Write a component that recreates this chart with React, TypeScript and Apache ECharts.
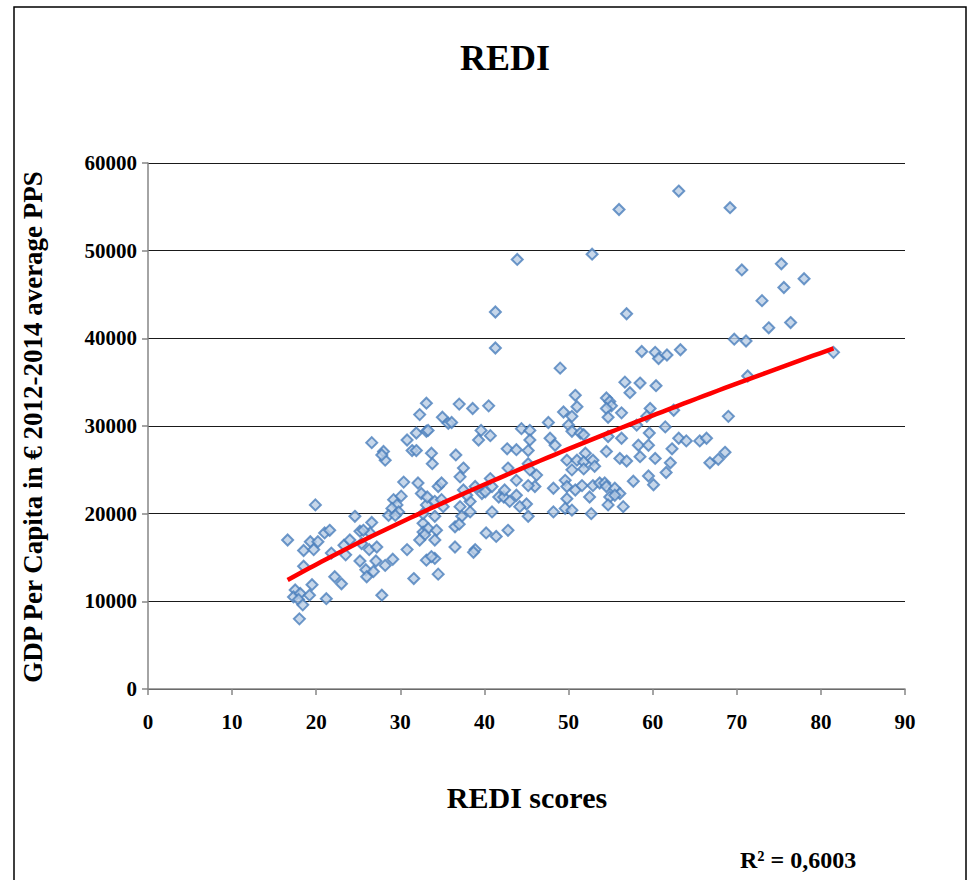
import React, { useEffect, useRef } from "react";
import * as echarts from "echarts";

const chartTitle = "REDI";
const xAxisTitle = "REDI scores";
const yAxisTitle = "GDP Per Capita in € 2012-2014 average PPS";
const r2Label = "R² = 0,6003";

const xTicks = [0, 10, 20, 30, 40, 50, 60, 70, 80, 90];
const yTicks = [0, 10000, 20000, 30000, 40000, 50000, 60000];

// REDI score (x) and GDP per capita (y) for each region
const lowRegions: number[][] = [
  [19.9, 21000], [16.6, 17000], [18.5, 15800], [19.3, 16800], [20.2, 16800], [19.7, 15900],
  [21.0, 17800], [21.6, 18100], [18.5, 14000], [21.8, 15500], [23.3, 16400], [24.0, 17000],
  [24.6, 19700], [23.5, 15300], [25.2, 18000], [25.4, 16600], [26.6, 19000], [26.4, 17800],
  [26.3, 15900], [27.2, 16200], [25.2, 14600], [25.9, 13600], [26.0, 12800], [26.8, 13400],
  [27.1, 14600], [28.2, 14100], [29.1, 14800], [27.8, 10700], [22.2, 12800], [23.0, 12000],
  [21.2, 10300], [19.5, 11900], [17.5, 11300], [17.3, 10500], [18.1, 10900], [17.9, 10200],
  [18.4, 9600], [19.2, 10700], [18.0, 8000], [30.8, 15900], [31.6, 12600], [25.6, 18100],
  [29.2, 21600], [29.6, 21000], [29.0, 20600], [29.8, 20200], [28.6, 19800], [29.4, 19800],
  [30.1, 22000], [30.4, 23600], [32.1, 23500], [32.5, 22300], [33.1, 21000], [33.2, 21900],
  [32.7, 18900], [32.7, 17900], [33.1, 14700], [32.7, 20000], [33.3, 18300], [34.1, 19700],
  [34.3, 18100], [32.9, 17600], [32.3, 17000], [34.1, 17000], [36.5, 16200], [38.9, 15900],
  [38.7, 15600], [34.1, 14900], [33.7, 15100], [34.5, 13100],
];

const upperLeftRegions: number[][] = [
  [26.6, 28100], [28.0, 27100], [28.2, 26100], [27.8, 26700], [30.8, 28400], [31.4, 27200],
  [31.9, 27200], [31.9, 29200], [32.3, 31300], [33.1, 32600], [33.1, 29400], [33.3, 29500],
  [33.7, 26900], [33.8, 25700],
];

const middleRegions: number[][] = [
  [37.0, 32500], [38.6, 32000], [40.5, 32300], [35.0, 31000], [35.7, 30300], [36.1, 30400],
  [39.6, 29500], [39.3, 28400], [40.7, 28900], [44.4, 29700], [45.4, 29500], [45.4, 28400],
  [47.6, 30400], [49.4, 31600], [50.4, 31100], [50.8, 33500], [51.0, 32200], [50.0, 30100],
  [50.4, 29400], [47.8, 28600], [48.4, 27800], [36.6, 26700], [37.5, 25200], [37.1, 24200],
  [42.7, 27400], [43.8, 27300], [45.2, 27200], [45.2, 25700], [42.8, 25200], [43.8, 23800],
  [45.4, 25000], [46.2, 24400], [46.0, 23100], [45.2, 23200], [49.8, 26100], [50.4, 25000],
  [49.6, 23800], [49.8, 23100], [50.8, 22700], [48.2, 22900], [49.8, 21700], [49.6, 20600],
  [50.4, 20400], [48.2, 20200], [34.5, 23100], [34.9, 23500], [34.1, 21400], [34.9, 21600],
  [35.1, 20800], [37.1, 20800], [38.3, 21400], [37.9, 22100], [37.5, 22700], [38.9, 23100],
  [39.7, 22300], [40.1, 22500], [40.9, 23100], [40.7, 24000], [41.7, 21900], [42.3, 21900],
  [42.4, 22700], [43.0, 21400], [43.8, 22100], [45.0, 21100], [44.2, 20800], [40.9, 20200],
  [38.3, 20200], [37.3, 19700], [36.5, 18500], [37.0, 18800], [40.2, 17800], [42.8, 18100],
  [45.2, 19700], [41.4, 17400],
];

const upperRightRegions: number[][] = [
  [56.7, 35000], [58.5, 34900], [60.4, 34600], [57.3, 33800], [54.5, 33200], [54.9, 32800],
  [55.1, 32300], [54.5, 32000], [56.3, 31500], [54.7, 31000], [59.7, 32000], [59.3, 31100],
  [62.5, 31800], [58.1, 30100], [61.5, 29900], [51.4, 29200], [51.8, 29000], [54.7, 28800],
  [56.3, 28600], [59.6, 29200], [63.1, 28600], [64.0, 28300], [65.6, 28300], [66.4, 28600],
  [58.3, 27800], [59.5, 27800], [62.3, 27400], [54.5, 27100], [58.5, 26500], [60.3, 26300],
  [62.1, 25800], [56.1, 26300], [56.9, 26000], [51.0, 26100], [52.0, 26900], [51.8, 25900],
  [52.9, 26100], [53.1, 25400], [51.8, 25100], [61.6, 24700], [66.8, 25800], [67.8, 26200],
  [68.6, 27000], [69.0, 31100], [57.7, 23700], [59.5, 24300], [60.1, 23300], [51.6, 23200],
  [52.9, 23200], [53.7, 23500], [54.3, 23500], [54.5, 23100], [55.5, 22900], [56.1, 22300],
  [54.9, 21900], [55.5, 22100], [52.5, 21900], [54.7, 21000], [56.5, 20800], [52.7, 20000],
];

const richRegions: number[][] = [
  [56.9, 42800], [58.7, 38500], [60.3, 38400], [60.7, 37700], [61.7, 38100], [63.3, 38700],
  [49.0, 36600], [63.1, 56800], [56.0, 54700], [69.2, 54900], [43.9, 49000], [52.8, 49600],
  [70.6, 47800], [75.3, 48500], [75.6, 45800], [78.0, 46800], [73.0, 44300], [41.3, 43000],
  [73.8, 41200], [76.4, 41800], [69.7, 39900], [71.1, 39700], [41.3, 38900], [81.5, 38400],
  [71.3, 35700],
];

const allPoints = [
  ...lowRegions,
  ...upperLeftRegions,
  ...middleRegions,
  ...upperRightRegions,
  ...richRegions,
];

// Power trend line (least squares in log space, as the spreadsheet does)
function powerTrend(points: number[][], steps: number) {
  const n = points.length;
  let sx = 0, sy = 0, sxx = 0, sxy = 0;
  for (const [x, y] of points) {
    const lx = Math.log(x), ly = Math.log(y);
    sx += lx; sy += ly; sxx += lx * lx; sxy += lx * ly;
  }
  const b = (n * sxy - sx * sy) / (n * sxx - sx * sx);
  const a = Math.exp((sy - b * sx) / n);
  const xs = points.map((p) => p[0]);
  const x0 = Math.min(...xs), x1 = Math.max(...xs);
  const out: number[][] = [];
  for (let i = 0; i <= steps; i++) {
    const x = x0 + ((x1 - x0) * i) / steps;
    out.push([x, a * Math.pow(x, b)]);
  }
  return out;
}

const FONT = "'Liberation Serif', 'Times New Roman', serif";

export default function App() {
  const ref = useRef<HTMLDivElement>(null);
  useEffect(() => {
    document.body.style.margin = "0";
    if (!ref.current) return;
    const chart = echarts.init(ref.current, undefined, { renderer: "svg" });
    const trend = powerTrend(allPoints, 80);
    chart.setOption({
      animation: false,
      backgroundColor: "#ffffff",
      grid: { left: 148, right: 69, top: 163, bottom: 191, containLabel: false },
      xAxis: {
        type: "value",
        min: xTicks[0],
        max: xTicks[xTicks.length - 1],
        interval: 10,
        axisLine: { show: true, lineStyle: { color: "#868686", width: 1.5 } },
        axisTick: { show: true, inside: false, length: 6, lineStyle: { color: "#868686", width: 1.5 } },
        axisLabel: {
          fontFamily: FONT, fontWeight: "bold", fontSize: 21, color: "#000", margin: 22,
          formatter: (v: number) => String(v),
        },
        splitLine: { show: false },
      },
      yAxis: {
        type: "value",
        min: yTicks[0],
        max: yTicks[yTicks.length - 1],
        interval: 10000,
        axisLine: { show: true, lineStyle: { color: "#868686", width: 1.5 } },
        axisTick: { show: true, inside: false, length: 6, lineStyle: { color: "#868686", width: 1.5 } },
        axisLabel: {
          fontFamily: FONT, fontWeight: "bold", fontSize: 21, color: "#000", margin: 11,
          formatter: (v: number) => String(v),
        },
        splitLine: { show: true, lineStyle: { color: "#1a1a1a", width: 1.2 } },
      },
      series: [
        {
          type: "scatter",
          data: allPoints,
          symbol: "diamond",
          symbolSize: 11,
          itemStyle: { color: "#b9cde5", borderColor: "#4a7ebb", borderWidth: 2 },
          z: 3,
        },
        {
          type: "line",
          data: trend,
          showSymbol: false,
          smooth: false,
          lineStyle: { color: "#ff0000", width: 4.5 },
          z: 4,
        },
      ],
      graphic: [
        {
          type: "rect",
          shape: { x: 14, y: 7, width: 952, height: 900 },
          style: { fill: "none", stroke: "#000", lineWidth: 1.5 },
          silent: true,
        },
        {
          type: "text",
          x: 505,
          y: 58,
          style: {
            text: chartTitle, font: `bold 36px ${FONT}`, fill: "#000",
            textAlign: "center", textVerticalAlign: "middle",
          },
        },
        {
          type: "text",
          x: 527,
          y: 797,
          style: {
            text: xAxisTitle, font: `bold 30px ${FONT}`, fill: "#000",
            textAlign: "center", textVerticalAlign: "middle",
          },
        },
        {
          type: "text",
          x: 33,
          y: 427,
          rotation: Math.PI / 2,
          style: {
            text: yAxisTitle, font: `bold 27px ${FONT}`, fill: "#000",
            textAlign: "center", textVerticalAlign: "middle",
          },
        },
        {
          type: "text",
          x: 740,
          y: 860,
          style: {
            text: r2Label, font: `bold 24px ${FONT}`, fill: "#000",
            textAlign: "left", textVerticalAlign: "middle",
          },
        },
      ],
    });
    return () => chart.dispose();
  }, []);
  return <div ref={ref} style={{ width: 974, height: 880 }} />;
}
